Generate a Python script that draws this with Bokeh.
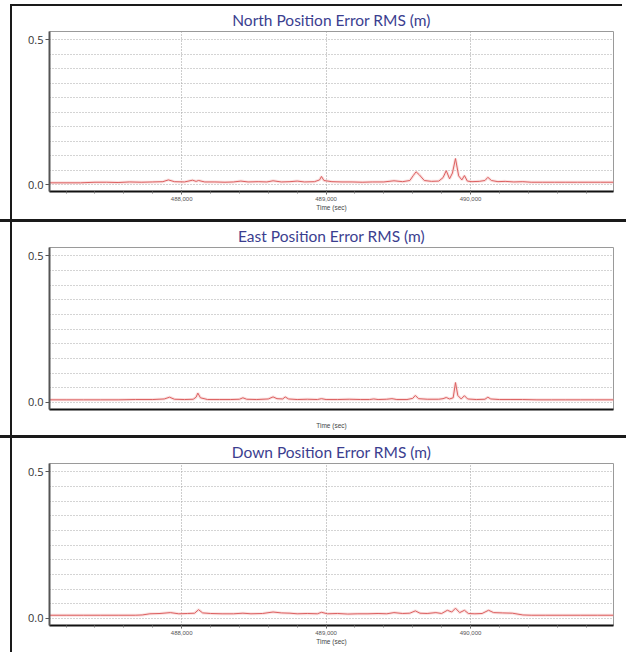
from bokeh.plotting import figure
from bokeh.layouts import column, row
from bokeh.models import Div, FixedTicker, NumeralTickFormatter, Range1d
from bokeh.embed import file_html
from bokeh.resources import INLINE

# ---------------- data ----------------
titles = ["North Position Error RMS (m)", "East Position Error RMS (m)", "Down Position Error RMS (m)"]
x_ticks = [488000, 489000, 490000]
y_ticks = [0.0, 0.5]
y_grid = [0.0, 0.05, 0.10, 0.15, 0.20, 0.25, 0.30, 0.35, 0.40, 0.45, 0.50]
x_start, x_end = 487085, 490990

north_t = [487085, 487150, 487220, 487300, 487400, 487480, 487560, 487640, 487720, 487800,
           487870, 487908, 487950, 488020, 488075, 488100, 488117, 488160, 488230, 488300,
           488360, 488410, 488460, 488530, 488590, 488633, 488690, 488750, 488800, 488850,
           488920, 488955, 488968, 488985, 489040, 489110, 489180, 489250, 489320, 489400,
           489470, 489530, 489580, 489605, 489623, 489645, 489680, 489730, 489780, 489810,
           489832, 489855, 489875, 489896, 489918, 489940, 489958, 489978, 490010, 490060,
           490100, 490120, 490145, 490190, 490240, 490300, 490362, 490420, 490500, 490580,
           490660, 490740, 490820, 490900, 490990]
north_v = [0.006, 0.006, 0.006, 0.006, 0.008, 0.008, 0.007, 0.009, 0.008, 0.009,
           0.010, 0.016, 0.010, 0.009, 0.015, 0.011, 0.014, 0.009, 0.009, 0.008,
           0.009, 0.012, 0.009, 0.010, 0.009, 0.013, 0.009, 0.010, 0.012, 0.009,
           0.010, 0.016, 0.028, 0.014, 0.010, 0.009, 0.009, 0.008, 0.009, 0.009,
           0.013, 0.010, 0.014, 0.032, 0.044, 0.034, 0.014, 0.011, 0.012, 0.024,
           0.048, 0.020, 0.040, 0.090, 0.030, 0.016, 0.031, 0.012, 0.010, 0.011,
           0.014, 0.025, 0.014, 0.010, 0.011, 0.009, 0.010, 0.008, 0.008, 0.008,
           0.008, 0.008, 0.008, 0.008, 0.008]

east_t = [487085, 487200, 487320, 487440, 487560, 487680, 487800, 487880, 487916, 487950,
          488020, 488080, 488100, 488112, 488130, 488180, 488260, 488340, 488400, 488424,
          488450, 488520, 488600, 488633, 488660, 488700, 488717, 488740, 488800, 488870,
          488940, 488968, 489000, 489080, 489160, 489240, 489300, 489330, 489360, 489420,
          489456, 489490, 489560, 489600, 489618, 489640, 489700, 489780, 489810, 489832,
          489855, 489880, 489896, 489912, 489935, 489958, 489980, 490040, 490100, 490120,
          490140, 490200, 490280, 490360, 490460, 490560, 490660, 490760, 490860, 490990]
east_v = [0.009, 0.009, 0.009, 0.009, 0.009, 0.010, 0.010, 0.012, 0.018, 0.011,
          0.010, 0.011, 0.018, 0.032, 0.016, 0.010, 0.010, 0.010, 0.011, 0.016,
          0.011, 0.010, 0.012, 0.019, 0.013, 0.012, 0.019, 0.012, 0.010, 0.011,
          0.010, 0.013, 0.010, 0.010, 0.011, 0.010, 0.010, 0.012, 0.010, 0.011,
          0.013, 0.010, 0.010, 0.014, 0.024, 0.013, 0.011, 0.011, 0.013, 0.017,
          0.012, 0.016, 0.068, 0.024, 0.012, 0.023, 0.012, 0.010, 0.011, 0.018,
          0.012, 0.010, 0.010, 0.010, 0.009, 0.009, 0.009, 0.009, 0.009, 0.009]

down_t = [487085, 487200, 487320, 487440, 487560, 487680, 487727, 487780, 487850, 487922,
          487980, 488040, 488090, 488117, 488145, 488200, 488280, 488360, 488424, 488480,
          488560, 488633, 488690, 488750, 488800, 488870, 488940, 488968, 489010, 489080,
          489150, 489220, 489290, 489360, 489420, 489470, 489530, 489580, 489618, 489650,
          489700, 489760, 489800, 489840, 489870, 489896, 489925, 489958, 489985, 490030,
          490080, 490125, 490160, 490220, 490290, 490362, 490420, 490520, 490640, 490760,
          490880, 490990]
down_v = [0.011, 0.011, 0.011, 0.011, 0.011, 0.011, 0.012, 0.016, 0.017, 0.020,
          0.016, 0.017, 0.018, 0.030, 0.019, 0.017, 0.016, 0.016, 0.018, 0.016,
          0.017, 0.022, 0.019, 0.018, 0.016, 0.017, 0.016, 0.021, 0.016, 0.017,
          0.015, 0.016, 0.016, 0.017, 0.016, 0.020, 0.017, 0.018, 0.026, 0.018,
          0.017, 0.020, 0.017, 0.028, 0.022, 0.035, 0.020, 0.028, 0.017, 0.016,
          0.017, 0.028, 0.020, 0.019, 0.018, 0.012, 0.011, 0.011, 0.011, 0.011,
          0.011, 0.011]

series_t = [north_t, east_t, down_t]
series_v = [north_v, east_v, down_v]

# ---------------- layout ----------------
FIG_W = 614
heights = [213, 213, 214]
tops = [25, 24, 24]
bottoms = [28, 26, 27]
show_x = [True, False, True]
TITLE_COLOR = "#3b3e8f"
LINE_COLOR = "#dc6060"


def panel(i):
    p = figure(width=FIG_W, height=heights[i],
               x_range=Range1d(x_start, x_end), y_range=Range1d(-0.024, 0.529),
               output_backend="svg", toolbar_location=None,
               min_border_left=37, min_border_right=13,
               min_border_top=tops[i], min_border_bottom=bottoms[i],
               background_fill_color="white", border_fill_color="white")
    p.title.text = titles[i]
    p.title.align = "center"
    p.title.text_font = "Lato"
    p.title.text_font_size = "15.5px"
    p.title.text_font_style = "normal"
    p.title.text_color = TITLE_COLOR
    p.title.standoff = 5
    p.title.offset = 0

    p.outline_line_color = "#9a9a9a"
    p.outline_line_width = 1

    # y axis
    ya = p.yaxis[0]
    ya.ticker = FixedTicker(ticks=y_ticks, minor_ticks=[])
    ya.formatter = NumeralTickFormatter(format="0.0")
    ya.major_label_text_font = "Open Sans"
    ya.major_label_text_font_size = "11px"
    ya.major_label_text_color = "#333333"
    ya.axis_line_color = "#555555"
    ya.axis_line_width = 2
    ya.major_tick_line_color = "#555555"
    ya.major_tick_out = 4
    ya.major_tick_in = 0
    ya.minor_tick_line_color = None
    ya.major_label_standoff = 2

    # x axis
    xa = p.xaxis[0]
    xa.axis_line_color = "#111111"
    xa.axis_line_width = 2
    xa.axis_label = "Time (sec)"
    xa.axis_label_text_font = "Liberation Sans"
    xa.axis_label_text_font_size = "6.5px"
    xa.axis_label_text_font_style = "normal"
    xa.axis_label_text_color = "#444444"
    if show_x[i]:
        xa.ticker = FixedTicker(ticks=x_ticks,
                                minor_ticks=list(range(487200, 491000, 200)))
        xa.formatter = NumeralTickFormatter(format="0,0")
        xa.major_label_text_font = "Liberation Sans"
        xa.major_label_text_font_size = "6px"
        xa.major_label_text_color = "#555555"
        xa.major_tick_out = 3
        xa.major_tick_in = 0
        xa.minor_tick_out = 2
        xa.minor_tick_in = 0
        xa.major_tick_line_color = "#555555"
        xa.minor_tick_line_color = "#777777"
        xa.major_label_standoff = 2
        xa.axis_label_standoff = 0
        p.xgrid.ticker = FixedTicker(ticks=x_ticks)
        p.xgrid.grid_line_color = "#9a9a9a"
        p.xgrid.grid_line_dash = "1 2"
        p.xgrid.grid_line_width = 1
    else:
        xa.ticker = FixedTicker(ticks=[], minor_ticks=[])
        xa.major_tick_line_color = None
        xa.minor_tick_line_color = None
        xa.axis_label_standoff = 12
        p.xgrid.grid_line_color = None

    p.ygrid.ticker = FixedTicker(ticks=y_grid)
    p.ygrid.grid_line_color = "#a8a8a8"
    p.ygrid.grid_line_dash = "1 2"
    p.ygrid.grid_line_width = 1

    p.line(series_t[i], series_v[i], line_color="#f5c4c4", line_width=3, line_alpha=0.5)
    p.line(series_t[i], series_v[i], line_color=LINE_COLOR, line_width=1)
    return p


def bar(w, h, color):
    return Div(text="", width=w, height=h, margin=0,
               styles={"background-color": color, "padding": "0", "margin": "0",
                       "font-size": "0", "line-height": "0", "overflow": "hidden"})


def with_left(p, h):
    return row(bar(10, h, "white"), bar(2, h, "#1a1a1a"), p, spacing=0)


figs = [panel(i) for i in range(3)]
layout = column(
    bar(626, 4, "white"),
    row(bar(10, 2, "white"), bar(612, 2, "#1a1a1a"), spacing=0),
    with_left(figs[0], heights[0]),
    bar(626, 3, "#1a1a1a"),
    with_left(figs[1], heights[1]),
    bar(626, 3, "#1a1a1a"),
    with_left(figs[2], heights[2]),
    spacing=0,
)

open("out.html", "w").write(file_html(layout, INLINE))
